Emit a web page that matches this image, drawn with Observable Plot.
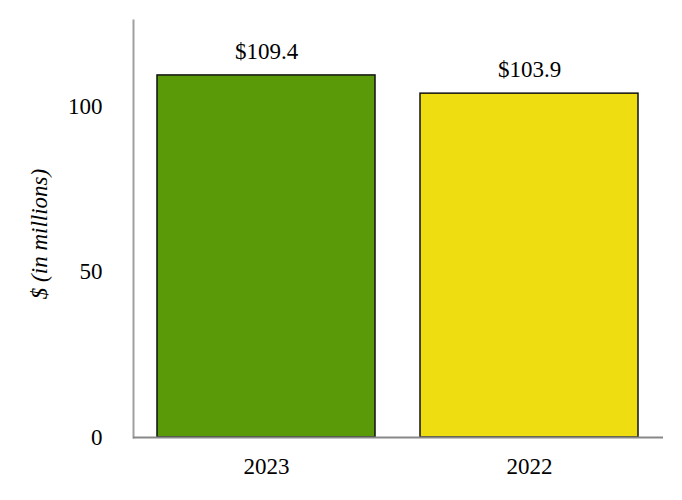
<!DOCTYPE html>
<html>
<head>
<meta charset="utf-8">
<script src="https://cdn.jsdelivr.net/npm/d3@7"></script>
<script src="https://cdn.jsdelivr.net/npm/@observablehq/plot@0.6"></script>
<style>
  html, body { margin: 0; padding: 0; background: #fff; }
  #chart svg { display: block; font-family: "Liberation Serif", "Times New Roman", serif; }
  #chart svg text { font-family: "Liberation Serif", "Times New Roman", serif; }
</style>
</head>
<body>
<div id="chart"></div>
<script>
const years = ["2023", "2022"];
const values = [109.4, 103.9];
const labels = ["$109.4", "$103.9"];
const colors = ["#5a9a08", "#eedd11"];
const yTicks = [0, 50, 100];
const yLabel = "$ (in millions)";

const data = years.map((y, i) => ({year: y, value: values[i], label: labels[i], color: colors[i]}));
const serif = "Liberation Serif";

const chart = Plot.plot({
  width: 682,
  height: 500,
  marginLeft: 133,
  marginRight: 19,
  marginTop: 20,
  marginBottom: 63,
  x: {domain: years, paddingInner: 0.17, paddingOuter: 0.09},
  y: {domain: [0, 126]},
  marks: [
    Plot.frame({anchor: "left", stroke: "#a0a0a0", strokeWidth: 2}),
    Plot.barY(data, {x: "year", y: "value", fill: "color", stroke: "#111", strokeWidth: 1.5}),
    Plot.text(data, {x: "year", y: "value", text: "label", dy: -24, fontSize: 23, fontFamily: serif, fill: "#000"}),
    Plot.ruleY([0], {stroke: "#888", strokeWidth: 2}),
    Plot.axisY({ticks: yTicks, tickSize: 0, tickPadding: 31, label: null, fill: "#000", fontSize: 23, fontFamily: serif}),
    Plot.axisX({tickSize: 0, tickPadding: 20, label: null, fill: "#000", fontSize: 23, fontFamily: serif}),
    Plot.text([yLabel], {frameAnchor: "left", textAnchor: "middle", dx: -94, dy: 5, rotate: -90, fontStyle: "italic", fontSize: 23, fontFamily: serif, fill: "#000"})
  ]
});
document.getElementById("chart").appendChild(chart);
</script>
</body>
</html>
